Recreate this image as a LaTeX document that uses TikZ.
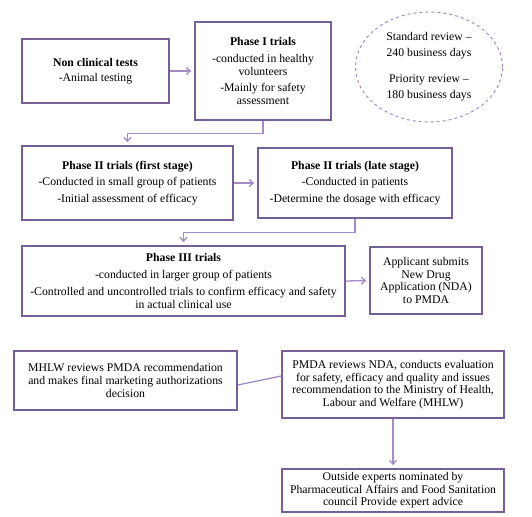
\documentclass[tikz,border=0pt]{standalone}
\usepackage{fontspec}
\setmainfont{Liberation Serif}
\usepackage{tikz}
\usetikzlibrary{
	arrows.meta,
	shapes.geometric
}
\definecolor{boxpurple}{RGB}{118,94,150}
\definecolor{linkpurple}{RGB}{163,140,198}

\begin{document}
\begin{tikzpicture}[x=1pt,y=-1pt,
		font=\fontsize{11.75}{12.6}\selectfont,
		box/.style={draw=boxpurple,line width=1.6pt,inner sep=0pt,align=center},
		link/.style={line width=1.3pt,color=linkpurple,-{Straight Barb[length=4pt,width=7pt]},shorten >=3pt}
	]
			\useasboundingbox (0,0) rectangle (532,516);

			\draw
				node[box,minimum width=147pt,minimum height=64pt] (nonclin) at (95.5,71) {\textbf{Non clinical tests}\\[2pt]-Animal testing}
				node[box,minimum width=136pt,minimum height=98pt] (phase1) at (263,71) {\textbf{Phase I trials}\\[4.2pt]-conducted in healthy\\volunteers\\[4.2pt]-Mainly for safety\\assessment}
				node[box,minimum width=211pt,minimum height=74pt] (phase2a) at (127.5,183) {\textbf{Phase II trials (first stage)}\\[4.2pt]-Conducted in small group of patients\\[4.2pt]-Initial assessment of efficacy}
				node[box,minimum width=194pt,minimum height=70pt] (phase2b) at (355,183) {\textbf{Phase II trials (late stage)}\\[4.2pt]-Conducted in patients\\[4.2pt]-Determine the dosage with efficacy}
				node[box,minimum width=323pt,minimum height=70pt] (phase3) at (183.5,281) {\textbf{Phase III trials}\\[4.2pt]-conducted in larger group of patients\\[4.2pt]-Controlled and uncontrolled trials to confirm efficacy and safety\\in actual clinical use}
				node[box,minimum width=112pt,minimum height=67pt] (nda) at (426,280.5) {Applicant submits\\New Drug\\Application (NDA)\\to PMDA}
				node[box,minimum width=223pt,minimum height=59pt] (mhlw) at (125.5,380.5) {MHLW reviews PMDA recommendation\\and makes final marketing authorizations\\decision}
				node[box,minimum width=222pt,minimum height=67pt] (pmda) at (393,384.5) {PMDA reviews NDA, conducts evaluation\\for safety, efficacy and quality and issues\\recommendation to the Ministry of Health,\\Labour and Welfare (MHLW)}
				node[box,minimum width=222pt,minimum height=43pt] (experts) at (393,490.5) {Outside experts nominated by\\Pharmaceutical Affairs and Food Sanitation\\council Provide expert advice}
			;

			% review times
			\node[ellipse,draw=linkpurple,dashed,line width=1pt,minimum width=147pt,minimum height=110pt,inner sep=0pt,align=center,
				font=\fontsize{11.75}{16}\selectfont] (review) at (429,67)
				{Standard review --\\240 business days\\[10pt]Priority review --\\180 business days};

			\draw[link] (nonclin.east) -- (phase1.west);
			\draw[link] (phase1.south) -- ++(0,13) -| (phase2a.north);
			\draw[link] (phase2a.east) -- (phase2b.west);
			\draw[link] (phase2b.south) -- ++(0,14) -| (phase3.north);
			\draw[link] (phase3.east) -- (nda.west);
			\draw[line width=1.3pt,color=linkpurple] ([yshift=8.5pt]pmda.west) -- ([yshift=-4.5pt]mhlw.east);
			\draw[link] (pmda.south) -- (experts.north);
		\end{tikzpicture}
\end{document}
